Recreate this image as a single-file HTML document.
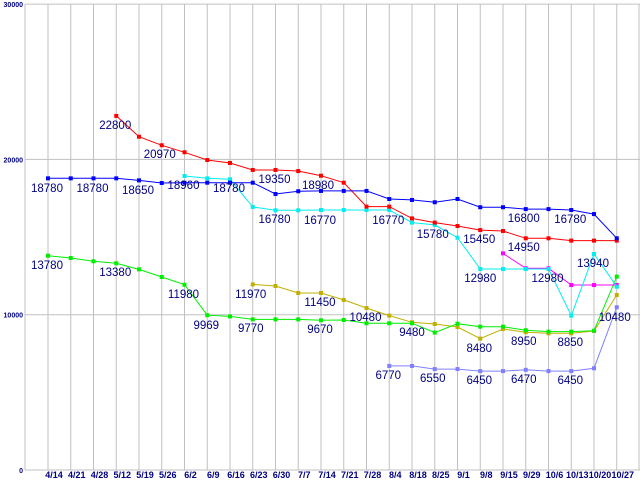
<!DOCTYPE html>
<html><head><meta charset="utf-8"><style>
html,body{margin:0;padding:0;background:#fff;}
svg{display:block;font-family:"Liberation Sans",sans-serif;}
</style></head><body>
<svg id="chart" width="640" height="480" viewBox="0 0 640 480" xmlns="http://www.w3.org/2000/svg"></svg>
<script>
const categories=["4/14","4/21","4/28","5/12","5/19","5/26","6/2","6/9","6/16","6/23","6/30","7/7","7/14","7/21","7/28","8/4","8/18","8/25","9/1","9/8","9/15","9/29","10/6","10/13","10/20","10/27"];
const yTicks=[0,10000,20000,30000];
const N=null;
const blueValues=[18780,18780,18780,18780,18650,18480,18500,18500,18500,18500,17770,17950,17970,17970,17970,17450,17390,17240,17450,16920,16920,16800,16800,16740,16480,14920];
const redValues=[N,N,N,22800,21460,20910,20460,19960,19770,19320,19320,19250,18950,18500,16960,16960,16200,15930,15710,15450,15390,14920,14920,14770,14770,14770];
const cyanValues=[N,N,N,N,N,N,18930,18780,18720,16940,16720,16720,16740,16740,16740,16740,15930,15780,14960,12940,12940,12940,12940,9940,13910,11800];
const magentaValues=[N,N,N,N,N,N,N,N,N,N,N,N,N,N,N,N,N,N,N,N,13950,12990,12990,11910,11910,11910];
const greenValues=[13800,13650,13440,13310,12920,12430,11930,9969,9890,9700,9700,9700,9640,9660,9450,9450,9450,8850,9420,9230,9230,9000,8910,8910,8970,12450];
const oliveValues=[N,N,N,N,N,N,N,N,N,11950,11850,11400,11400,10950,10430,9940,9510,9400,9210,8460,9080,8870,8800,8800,8950,11270];
const lavenderValues=[N,N,N,N,N,N,N,N,N,N,N,N,N,N,N,6700,6700,6500,6500,6370,6370,6450,6370,6370,6550,10480];
const labelTexts=["22800","20970","18780","18780","18650","18960","18780","19350","16780","16770","18980","16770","15780","15450","12980","16800","16780","14950","12980","13940","10480","10480","9480","8480","8950","8850","6770","6550","6450","6470","6450","13780","13380","11980","9969","9770","9670","11970","11450"];
const labelIdx=[3,5,0,2,4,6,8,10,10,12,12,15,17,19,19,21,23,21,22,24,25,14,16,19,21,23,15,17,19,21,23,0,3,6,7,9,12,9,12];
const labelDx=[-1,-2,-1,-1,-1,-1,-1,-1,-1,-1,-3,-1,-2,-1,0,-2,-1,-2,-1,-1,-2,-1,0,-1,-2,-1,-1,-2,-1,-2,-1,-1,-1,-1,-1,-2,-1,-2,-1];
const labelValues=[22215,20348,18158,18158,18030,18351,18158,18738,16162,16098,18351,16098,15196,14874,12363,16227,16162,14359,12363,13329,9852,9852,8886,7856,8306,8242,6117,5924,5795,5860,5795,13200,12750,11333,9337,9144,9079,11333,10818];
const W=22.75,X0=48;
function xs(i){return X0+i*W;}
function ys(v){return 470-v*0.01553;}
const svg=document.getElementById('chart');
const NS='http://www.w3.org/2000/svg';
function mk(t,a){const e=document.createElementNS(NS,t);for(const k in a)e.setAttribute(k,a[k]);svg.appendChild(e);return e;}
for(let i=0;i<=26;i++){
  const g=mk('line',{x1:Math.min(xs(i),639),x2:Math.min(xs(i),639),y1:4,y2:470,stroke:'#c0c0c0','stroke-width':1});
  
  
}
yTicks.forEach(v=>{
  const g=mk('line',{x1:25,x2:640,y1:ys(v),y2:ys(v),stroke:'#c0c0c0','stroke-width':1});
  
  
  const t=mk('text',{x:23,y:ys(v)+3,'text-anchor':'end','font-size':'7','font-weight':'bold',fill:'#000080'});
  t.textContent=String(v);
  
  
});
const ax=mk('line',{x1:25,x2:25,y1:4,y2:470,stroke:'#c0c0c0','stroke-width':1});


categories.forEach((c,i)=>{
  const t=mk('text',{x:xs(i)+6,y:478,'text-anchor':'middle','font-size':'9','font-weight':'bold',fill:'#000080'});
  t.textContent=c;
  
  
});
const series=[
 ['series-olive',oliveValues,'#c0b000'],
 ['series-lavender',lavenderValues,'#8080ff'],
 ['series-green',greenValues,'#00ee00'],
 ['series-magenta',magentaValues,'#ff00ff'],
 ['series-cyan',cyanValues,'#00eeee'],
 ['series-red',redValues,'#ff0000'],
 ['series-blue',blueValues,'#0000ff']
];
series.forEach(([name,vals,col])=>{
  let d='';let pen=false;
  vals.forEach((v,i)=>{if(v==null){pen=false;return;}d+=(pen?'L':'M')+xs(i).toFixed(1)+' '+ys(v).toFixed(1)+' ';pen=true;});
  const p=mk('path',{d:d,fill:'none',stroke:col,'stroke-width':1});
  
  
  vals.forEach((v,i)=>{if(v==null)return;
    const r=mk('rect',{x:xs(i)-2,y:ys(v)-2,width:4,height:4,fill:col});
    
    
  });
});
labelTexts.forEach((s,k)=>{
  const t=mk('text',{x:xs(labelIdx[k])+labelDx[k],y:ys(labelValues[k])+4,'text-anchor':'middle','font-size':'11.5',fill:'#000080'});
  t.textContent=s;
  
  
});
</script>
</body></html>
